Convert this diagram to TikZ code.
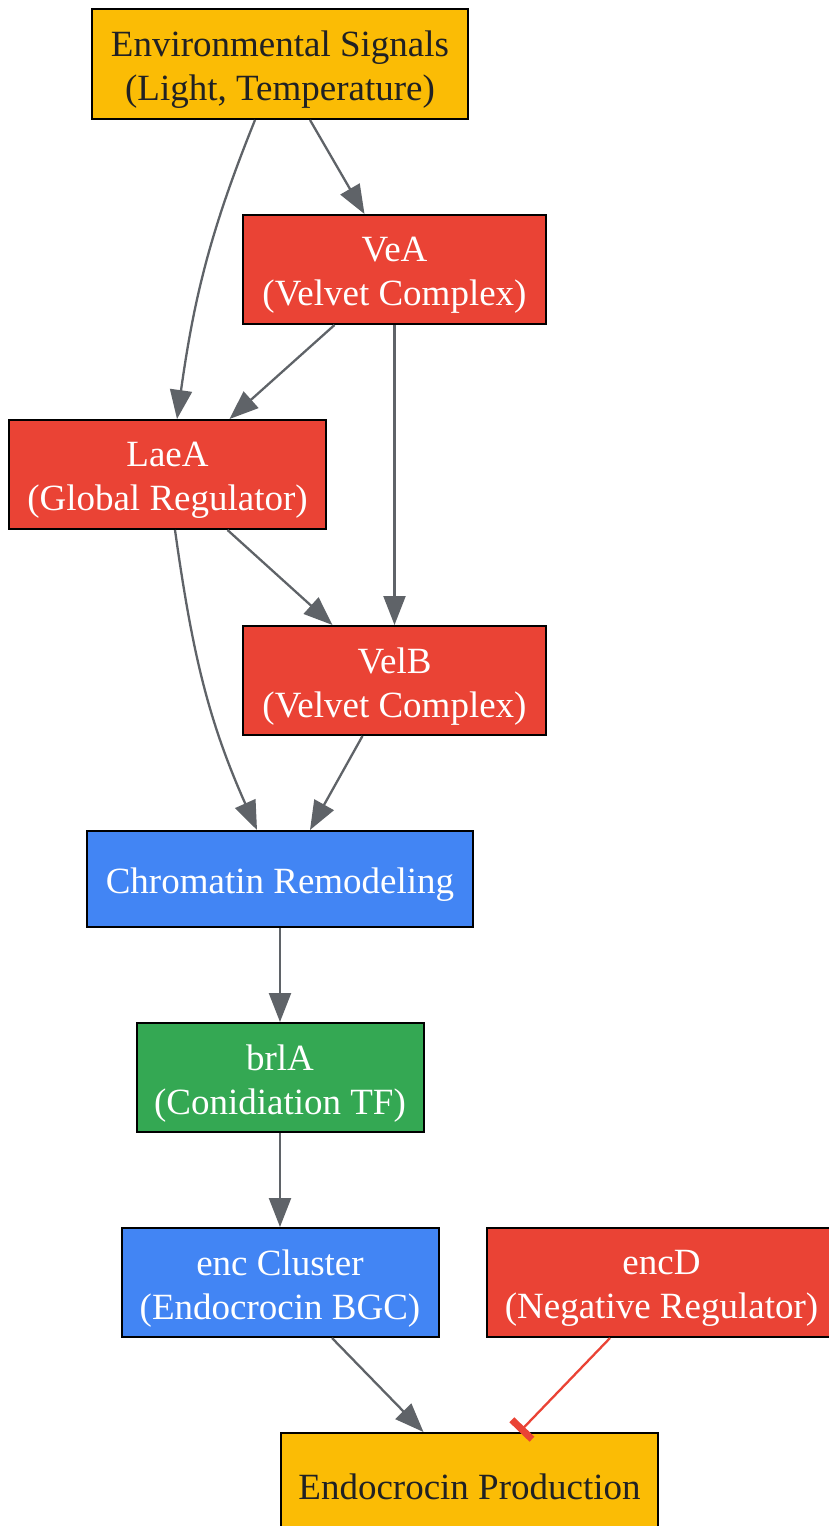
\documentclass[tikz,border=0pt]{standalone}
\usepackage{fontspec}
\setmainfont{Liberation Serif}
\usetikzlibrary{arrows.meta,calc}
\definecolor{gyellow}{HTML}{FBBC05}
\definecolor{gred}{HTML}{EA4335}
\definecolor{gblue}{HTML}{4285F4}
\definecolor{ggreen}{HTML}{34A853}
\definecolor{ggray}{HTML}{5F6368}
\definecolor{gdark}{HTML}{202124}
\tikzset{
  box/.style={draw=black, line width=2pt, rectangle, inner sep=0pt},
  lbl/.style={align=center, inner sep=0pt, yshift=-6pt, font=\fontsize{37}{44}\selectfont},
  dlbl/.style={lbl, text=gdark},
  wlbl/.style={lbl, text=white},
  ybox/.style={box, fill=gyellow},
  rbox/.style={box, fill=gred},
  bbox/.style={box, fill=gblue},
  gbox/.style={box, fill=ggreen},
  edge/.style={draw=ggray, line width=2.3pt, -{Triangle[length=29pt,width=22pt]}},
  inhib/.style={draw=gred, line width=2.3pt, -{Bar[width=28pt,line width=7pt]}}
}
\begin{document}
\begin{tikzpicture}[x=1pt,y=1pt]
\useasboundingbox (0,0) rectangle (828,-1526);
\node[ybox, minimum width=376pt, minimum height=110pt, label={[dlbl]center:{Environmental Signals\\(Light, Temperature)}}] (env) at (280,-64) {};
\node[rbox, minimum width=303pt, minimum height=109pt, label={[wlbl]center:{VeA\\(Velvet Complex)}}] (vea) at (394.5,-269.5) {};
\node[rbox, minimum width=317pt, minimum height=109pt, label={[wlbl]center:{LaeA\\(Global Regulator)}}] (laea) at (167.5,-474.5) {};
\node[rbox, minimum width=303pt, minimum height=109pt, label={[wlbl]center:{VelB\\(Velvet Complex)}}] (velb) at (394.5,-680.5) {};
\node[bbox, minimum width=386pt, minimum height=96pt, label={[wlbl]center:{Chromatin Remodeling}}] (chrom) at (280,-879) {};
\node[gbox, minimum width=287pt, minimum height=109pt, label={[wlbl]center:{brlA\\(Conidiation TF)}}] (brla) at (280,-1077.5) {};
\node[bbox, minimum width=317pt, minimum height=109pt, label={[wlbl]center:{enc Cluster\\(Endocrocin BGC)}}] (enc) at (280,-1282.5) {};
\node[rbox, minimum width=349pt, minimum height=109pt, label={[wlbl]center:{encD\\(Negative Regulator)}}] (encd) at (661.5,-1282.5) {};
\node[ybox, minimum width=377pt, minimum height=96pt, label={[dlbl]center:{Endocrocin Production}}] (prod) at (469.5,-1481) {};

\draw[edge] ([xshift=30pt]env.south) -- ([xshift=-30pt]vea.north);
\draw[edge] ([xshift=-25pt]env.south) to[out=-112,in=82] ([xshift=9.5pt]laea.north);
\draw[edge] ([xshift=-60pt]vea.south) -- ([xshift=62pt]laea.north);
\draw[edge] (vea.south) -- (velb.north);
\draw[edge] ([xshift=60pt]laea.south) -- ([xshift=-62pt]velb.north);
\draw[edge] ([xshift=7.5pt]laea.south) to[out=-82,in=114] ([xshift=-23pt]chrom.north);
\draw[edge] ([xshift=-32pt]velb.south) -- ([xshift=30pt]chrom.north);
\draw[edge] (chrom.south) -- (brla.north);
\draw[edge] (brla.south) -- (enc.north);
\draw[edge] ([xshift=52pt]enc.south) -- ([xshift=-46pt]prod.north);
\draw[inhib] ([xshift=-51.5pt]encd.south) -- ([xshift=50pt]prod.north);
\end{tikzpicture}
\end{document}
